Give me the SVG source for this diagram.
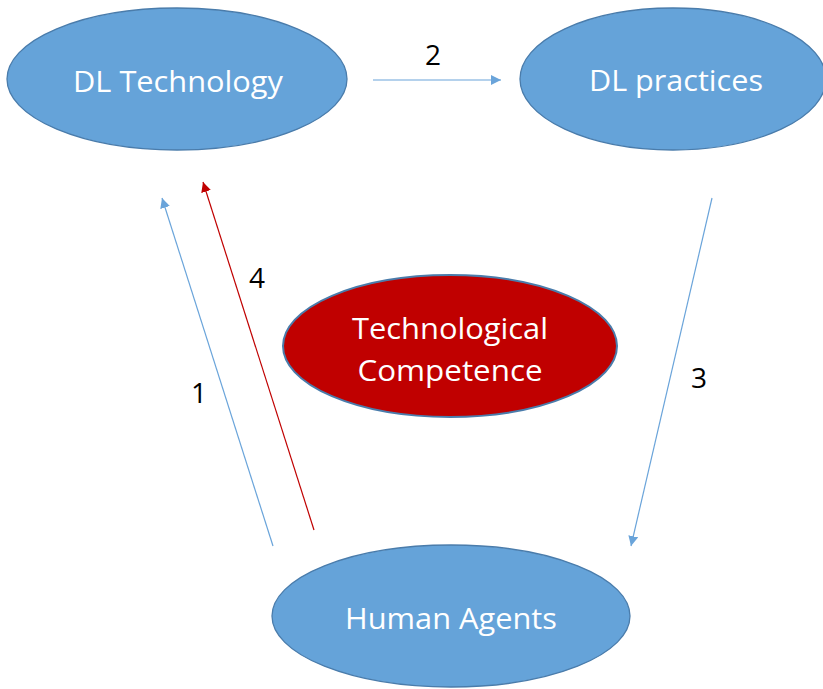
<svg xmlns="http://www.w3.org/2000/svg" width="823" height="689" viewBox="0 0 823 689">
  <style>
    .blue { fill: #65A3D9; stroke: #4A7CAB; stroke-width: 1.3; }
    .red { fill: #C00000; stroke: #4A7CAB; stroke-width: 2; }
    .ntext { font-family: "Open Sans", "Liberation Sans", sans-serif; font-size: 30px; fill: #FFFFFF; text-anchor: middle; }
    .num { font-family: "Open Sans", "Liberation Sans", sans-serif; font-size: 28px; fill: #000000; text-anchor: middle; }
    .conn-blue { stroke: #6AA4DA; stroke-width: 1.2; fill: none; }
    .conn-red { stroke: #C00000; stroke-width: 1.2; fill: none; }
  </style>
  <defs>
    <marker id="headBlue" viewBox="0 0 10 10" refX="10" refY="5" markerWidth="10" markerHeight="10" markerUnits="userSpaceOnUse" orient="auto">
      <path d="M0,0 L10,5 L0,10 Z" fill="#6AA4DA"/>
    </marker>
    <marker id="headRed" viewBox="0 0 10 10" refX="10" refY="5" markerWidth="10" markerHeight="10" markerUnits="userSpaceOnUse" orient="auto">
      <path d="M0,0 L10,5 L0,10 Z" fill="#C00000"/>
    </marker>
  </defs>

  <g id="connectors">
    <line class="conn-blue" x1="373" y1="80" x2="501" y2="80" marker-end="url(#headBlue)"/>
    <line class="conn-blue" x1="273" y1="546" x2="162" y2="198" marker-end="url(#headBlue)"/>
    <line class="conn-red" x1="314" y1="530" x2="203" y2="182" marker-end="url(#headRed)"/>
    <line class="conn-blue" x1="712" y1="198" x2="631" y2="546" marker-end="url(#headBlue)"/>
    <text class="num" x="433" y="65">2</text>
    <text class="num" x="199" y="403">1</text>
    <text class="num" x="257" y="288">4</text>
    <text class="num" x="699" y="388">3</text>
  </g>

  <g id="dl-technology">
    <ellipse class="blue" cx="177" cy="79" rx="170" ry="71"/>
    <text class="ntext" x="178" y="92" textLength="210" lengthAdjust="spacingAndGlyphs">DL Technology</text>
  </g>

  <g id="dl-practices">
    <ellipse class="blue" cx="673" cy="79" rx="153" ry="71"/>
    <text class="ntext" x="676" y="91" textLength="174" lengthAdjust="spacingAndGlyphs">DL practices</text>
  </g>

  <g id="technological-competence">
    <ellipse class="red" cx="450" cy="346" rx="167" ry="71"/>
    <text class="ntext" x="450" y="339" textLength="196" lengthAdjust="spacingAndGlyphs">Technological</text>
    <text class="ntext" x="450" y="381" textLength="185" lengthAdjust="spacingAndGlyphs">Competence</text>
  </g>

  <g id="human-agents">
    <ellipse class="blue" cx="451" cy="616" rx="179" ry="71"/>
    <text class="ntext" x="451" y="629" textLength="212" lengthAdjust="spacingAndGlyphs">Human Agents</text>
  </g>
</svg>
